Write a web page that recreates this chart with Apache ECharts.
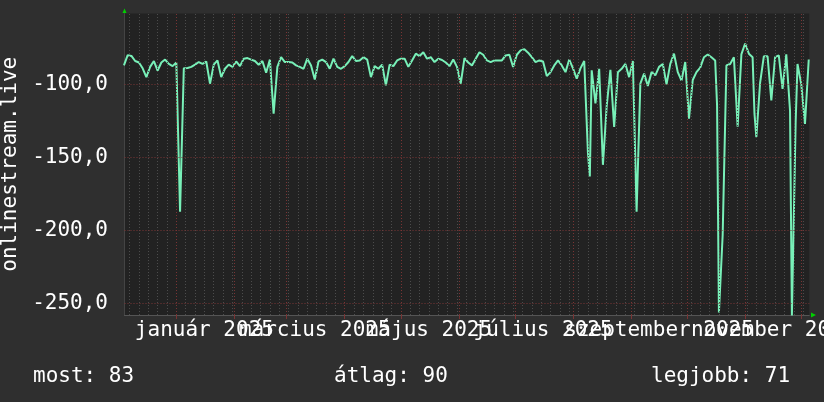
<!DOCTYPE html>
<html><head><meta charset="utf-8">
<script src="https://cdn.jsdelivr.net/npm/echarts@6/dist/echarts.min.js"></script>
<style>html,body{margin:0;padding:0;background:#2f2f2f}#c{width:824px;height:402px}</style>
</head><body><div id="c"></div><script>
// ---- data ----
const firstSampleDay = -28;   // days relative to 2025-01-01
const sampleStepDays = 2;
const latency = [
 -87,-80,-80.5,-84,-85,-89,-95,-88,-84,-90.5,-85,-83,-86,-87.5,-85,-187,-89,-88.8,-88,-86.5,
 -84.7,-86,-84.3,-99.5,-86.5,-83.6,-95,-89.3,-86.5,-88,-84.3,-87.5,-82.4,-82,-83,-84,-86.5,-84,-92,-83,
 -120,-88,-81.4,-84.7,-84.7,-85,-87,-88,-89.3,-82.4,-87,-96.6,-84.3,-83,-84.7,-89.3,-82.4,-88,-89.3,-87.5,
 -84.7,-80.6,-84,-83.6,-81.4,-83,-95,-87.5,-89.3,-86.5,-100.7,-86.5,-87.5,-83.6,-82.4,-82.4,-88,-83.6,-79,-80.6,
 -78,-82.4,-81.4,-84.7,-82.4,-83.3,-85,-87.5,-83,-88,-99.5,-82,-85,-87,-82.4,-78,-79.7,-83.6,-84.7,-83.6,
 -83.6,-83.6,-80.2,-79.7,-88,-79.7,-76.7,-76,-78.3,-81.4,-84.7,-83.6,-84.3,-94.3,-91.6,-87,-83.6,-87,-91.6,-83,
 -89,-96,-89,-84,-147,-90.4,-113,-89.3,-155,-115,-90,-129,-91.6,-89.3,-86,-95,-84,-187,-99.5,-92.6,
 -101,-91.6,-93.8,-88,-86,-100,-86,-79,-91.6,-97.3,-84.7,-123.5,-97,-91.6,-88.5,-81.4,-79.5,-81.4,-83.6,-256,
 -203,-87,-86,-81.4,-129,-79.5,-72,-79,-81.4,-136,-99,-80.8,-80.8,-111,-81.4,-80.2,-103,-79.5,-118,-257,
 -86,-100,-127,-83
];
const extraDays   = [221, 289, 291, 309, 329, 331];
const extraValues = [-163, -114, -256, -120, -258, -126];
const monthNames = ['január','február','március','április','május','június','július','augusztus','szeptember','október','november','december'];
const labelMonthsA = [0, 4, 8];
const labelMonthsB = [2, 6, 10];
const yTickValues = [-250, -200, -150, -100];
const legendTexts = ['most: 83', 'átlag: 90', 'legjobb: 71'];
const yAxisTitle = 'onlinestream.live';

// ---- build ----
const DAY = 86400000;
const day0 = Date.UTC(2025, 0, 1);
const dayOf = (y, m, d) => (Date.UTC(y, m, d) - day0) / DAY;
let pts = latency.map((v, i) => [firstSampleDay + i * sampleStepDays, v]);
extraDays.forEach((d, i) => pts.push([d, extraValues[i]]));
pts.sort((a, b) => a[0] - b[0]);

const monthStarts = [];
for (let m = 0; m < 12; m++) monthStarts.push(dayOf(2025, m, 1));
const labelsAt = ms => ms.map(m => dayOf(2025, m, 1) + 15);
const minorX = [];
for (let d = -25; d < 340; d += 5) minorX.push(d);
const minorY = [];
for (let v = -255; v > -52; v += 5) if (v % 50 !== 0) minorY.push(v);

const FONT = 'DejaVu Sans Mono';
const gridCol = '#4c4c4c', majorCol = '#7a3434';
const mlBase = {silent: true, symbol: ['none', 'none'], label: {show: false}, animation: false};
const fmtMonth = v => { const d = new Date(day0 + Math.round(v) * DAY); return monthNames[d.getUTCMonth()] + ' ' + d.getUTCFullYear(); };
const xAxisBase = (labels, showLine) => ({
  type: 'value', min: -27.7, max: 338.3, position: 'bottom',
  splitLine: {show: false},
  axisLine: {show: showLine, onZero: false, lineStyle: {color: '#555555'}},
  axisTick: {show: showLine, customValues: monthStarts, length: 4, lineStyle: {color: majorCol}},
  axisLabel: {
    customValues: labels, hideOverlap: false, margin: 5,
    color: '#ffffff', fontFamily: FONT, fontSize: 21, formatter: fmtMonth
  }
});

const chart = echarts.init(document.getElementById('c'));
chart.setOption({
  animation: false,
  backgroundColor: '#2f2f2f',
  title: legendTexts.map((t, i) => ({
    text: t, left: [33, 334, 651][i], top: 366, padding: 0,
    textStyle: {color: '#ffffff', fontFamily: FONT, fontSize: 21, fontWeight: 'normal'}
  })),
  grid: {left: 124.5, right: 14.7, top: 13.5, bottom: 87, containLabel: false, outerBoundsMode: 'none',
         show: true, backgroundColor: '#222222', borderWidth: 0},
  xAxis: [xAxisBase(labelsAt(labelMonthsA), true), xAxisBase(labelsAt(labelMonthsB), false)],
  yAxis: {
    type: 'value', min: -257.7, max: -51.5,
    name: yAxisTitle, nameLocation: 'middle', nameRotate: 90, nameGap: 103,
    nameTextStyle: {color: '#ffffff', fontFamily: FONT, fontSize: 21},
    splitLine: {show: false},
    axisLine: {show: true, onZero: false, lineStyle: {color: '#444444'}},
    axisTick: {show: false},
    axisLabel: {
      customValues: yTickValues, margin: 16.5,
      color: '#ffffff', fontFamily: FONT, fontSize: 21,
      formatter: v => v.toFixed(1).replace('.', ',')
    }
  },
  series: [
    {
      type: 'line', data: pts, z: 1, showSymbol: false, silent: true,
      lineStyle: {opacity: 0},
      markLine: Object.assign({}, mlBase, {
        lineStyle: {color: gridCol, type: [1, 2], width: 1},
        data: minorY.map(v => ({yAxis: v})).concat(minorX.map(x => ({xAxis: x})))
      })
    },
    {
      type: 'line', data: pts, z: 2, showSymbol: false, silent: true,
      lineStyle: {opacity: 0},
      markLine: Object.assign({}, mlBase, {
        lineStyle: {color: majorCol, type: [1, 2], width: 1},
        data: yTickValues.map(v => ({yAxis: v})).concat(monthStarts.map(x => ({xAxis: x})))
      })
    },
    {
      type: 'line', data: pts, z: 3, showSymbol: false, silent: true,
      lineStyle: {color: '#78f0b8', width: 2}
    }
  ],
  graphic: [
    {type: 'polygon', shape: {points: [[122.5, 13], [126.5, 13], [124.5, 8.5]]}, style: {fill: '#00d000'}, silent: true},
    {type: 'polygon', shape: {points: [[811, 312.5], [811, 317.5], [816, 315]]}, style: {fill: '#00d000'}, silent: true}
  ]
});
</script></body></html>
